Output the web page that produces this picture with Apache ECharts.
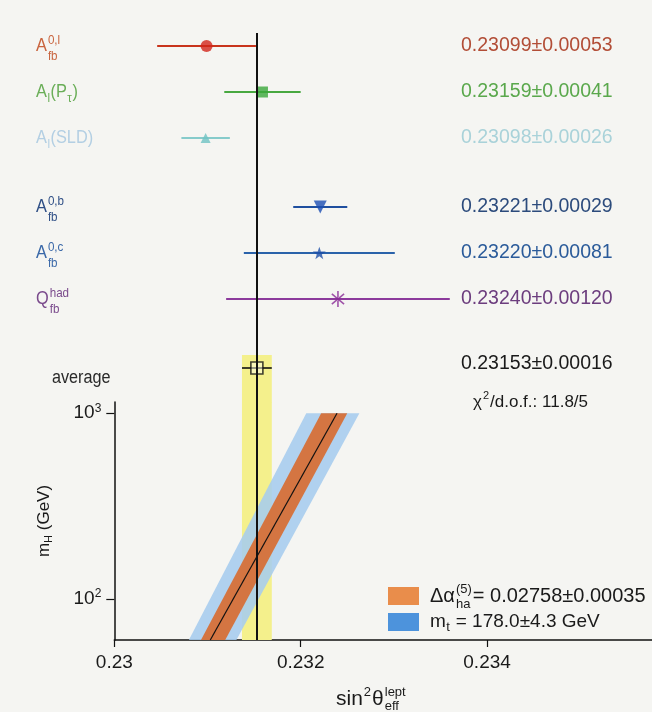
<!DOCTYPE html>
<html>
<head>
<meta charset="utf-8">
<script src="https://cdn.jsdelivr.net/npm/echarts@6/dist/echarts.min.js"></script>
<style>
  html, body { margin: 0; padding: 0; background: #f5f5f2; }
  #chart { width: 652px; height: 712px; }
</style>
</head>
<body>
<div id="chart"></div>
<script>
// ---- sin^2 theta_eff^lept measurements ----
const measurementValue = [0.23099, 0.23159, 0.23098, 0.23221, 0.23220, 0.23240];
const measurementError = [0.00053, 0.00041, 0.00026, 0.00029, 0.00081, 0.00120];
const averageValue = 0.23153;
const averageError = 0.00016;
const chi2PerDof = '11.8/5';

// label pieces: [text, role]; roles: base, sup, sub (stacked under sup), low (inline subscript)
const measurementLabels = [
  [['A', 'base'], ['0,l', 'sup'], ['fb', 'sub']],
  [['A', 'base'], ['l', 'low'], ['(P', 'base'], ['τ', 'low'], [')', 'base']],
  [['A', 'base'], ['l', 'low'], ['(SLD)', 'base']],
  [['A', 'base'], ['0,b', 'sup'], ['fb', 'sub']],
  [['A', 'base'], ['0,c', 'sup'], ['fb', 'sub']],
  [['Q', 'base'], ['had', 'sup'], ['fb', 'sub']]
];
const averageLabel = 'average';

// ---- Standard Model prediction versus Higgs mass ----
const higgsMass     = [60, 1000];
const smCentral     = [0.23103, 0.23239];
const alphaBandLow  = [0.23093, 0.23222];
const alphaBandHigh = [0.23119, 0.23250];
const topBandLow    = [0.23080, 0.23206];
const topBandHigh   = [0.23131, 0.23263];

const legendAlpha = [['Δα', 'base'], ['(5)', 'sup'], ['ha', 'sub'], ['= 0.02758±0.00035', 'base']];
const legendTop   = [['m', 'base'], ['t', 'low'], [' = 178.0±4.3 GeV', 'base']];

// ---- axes ----
const xTickValues = [0.230, 0.232, 0.234];
const xTickLabels = ['0.23', '0.232', '0.234'];
const yTickValues = [100, 1000];
const yTickExponents = ['2', '3'];
const xTitle = [['sin', 'base'], ['2', 'sup'], ['θ', 'base'], ['lept', 'sup'], ['eff', 'sub']];
const chi2Label = [['χ', 'base'], ['2', 'sup'], ['/d.o.f.: ' + chi2PerDof, 'base']];

// ---- layout & style ----
const X_MIN = 0.23, X_MAX = 0.23577;
const Y_MIN = 60, Y_MAX = 1150;
const PLOT_LEFT = 114.3;
const rowSlot = [0, 1, 2, 3.5, 4.5, 5.5, 7];
const FONT_SANS = "'Liberation Sans', Arial, sans-serif";

const labelColor  = ['#c9643e', '#6aae58', '#b3cfe3', '#2f4f86', '#3a68a8', '#7a4a8c', '#2a2a2a'];
const valueColor  = ['#b24d36', '#5aa84c', '#a9d2d9', '#2c4b7c', '#2b5b9a', '#6c3d7e', '#1a1a1a'];
const barColor    = ['#c8341c', '#48a840', '#86cbcb', '#1f4f9f', '#2a62aa', '#8c3a9c', '#111111'];
const markerColor = ['#d2261a', '#3aa83a', '#6fc3c3', '#1b4db3', '#1d4fa8', '#8a2a96', 'rgba(255,255,235,0.6)'];
const STAR = 'path://M50,0 L61.8,35.1 L98.1,35.1 L68.8,56.8 L79.4,91.9 L50,70.6 L20.6,91.9 L31.2,56.8 L1.9,35.1 L38.2,35.1 Z';
const ASTERISK = 'path://M45,0H55V100H45Z M14.9,14.1L91.5,78.3L85.1,85.9L8.5,21.7Z M85.1,14.1L8.5,78.3L14.9,85.9L91.5,21.7Z';
const markerSymbol = ['circle', 'rect', 'triangle', 'triangle', STAR, ASTERISK, 'rect'];
const markerSize   = [12, 11, 10, 13, 13, 16, 12];
const markerRotate = [0, 0, 0, 180, 0, 0, 0];

const rowsValue = measurementValue.concat([averageValue]);
const rowsError = measurementError.concat([averageError]);
const AVG_ROW = rowsValue.length - 1;

const measureCtx = document.createElement('canvas').getContext('2d');
function textWidth(str, size, family) {
  measureCtx.font = size + 'px ' + family;
  return measureCtx.measureText(str).width;
}
// a text element anchored at its left/middle point, optionally condensed horizontally
function txt(str, x, y, size, color, family, squeeze) {
  return {
    type: 'text', x: x, y: y, scaleX: squeeze || 1, silent: true,
    style: { text: str, fill: color, fontSize: size, fontFamily: family, align: 'left', verticalAlign: 'middle' }
  };
}
// lay out a label made of base text with super/subscripts
function buildPieces(tokens, x0, y, color, family, big, small, off, squeeze) {
  const k = squeeze || 1;
  const out = [];
  let x = x0, pendingSup = 0;
  tokens.forEach(function (t) {
    const s = t[0], role = t[1];
    if (role === 'base') {
      x += pendingSup; pendingSup = 0;
      out.push(txt(s, x, y, big, color, family, k));
      x += textWidth(s, big, family) * k;
    } else if (role === 'sup') {
      out.push(txt(s, x + 1, y + off.sup, small, color, family, k));
      pendingSup = textWidth(s, small, family) * k + 2;
    } else if (role === 'sub') {
      out.push(txt(s, x + 1, y + off.sub, small, color, family, k));
      x += Math.max(pendingSup, textWidth(s, small, family) * k + 2); pendingSup = 0;
    } else if (role === 'low') {
      out.push(txt(s, x + 0.5, y + off.low, small, color, family, k));
      x += textWidth(s, small, family) * k + 1;
    }
  });
  return out;
}

const chart = echarts.init(document.getElementById('chart'), null, { renderer: 'canvas', width: 652, height: 712 });

const bandDefs = [
  { low: topBandLow, high: topBandHigh, color: 'rgba(166,204,238,0.88)' },
  { low: alphaBandLow, high: alphaBandHigh, color: 'rgba(214,112,56,0.95)' }
];

const option = {
  animation: false,
  backgroundColor: '#f5f5f2',
  grid: [
    { left: PLOT_LEFT, right: 0, top: 0, height: 402.5, containLabel: false, outerBoundsMode: 'none' },
    { left: PLOT_LEFT, right: 0, top: 402, height: 238, containLabel: false, outerBoundsMode: 'none' }
  ],
  xAxis: [
    { gridIndex: 0, type: 'value', min: X_MIN, max: X_MAX, show: false },
    {
      gridIndex: 1, type: 'value', min: X_MIN, max: X_MAX,
      axisLine: { show: true, onZero: false, lineStyle: { color: '#111', width: 1.5 } },
      axisTick: { show: true, customValues: xTickValues, length: 7, lineStyle: { color: '#111', width: 1.2 } },
      axisLabel: {
        show: true, customValues: xTickValues, margin: 13, fontSize: 19, fontFamily: FONT_SANS, color: '#1a1a1a',
        formatter: function (v) {
          const k = xTickValues.findIndex(function (t) { return Math.abs(t - v) < 1e-9; });
          return k >= 0 ? xTickLabels[k] : '';
        }
      },
      splitLine: { show: false }
    }
  ],
  yAxis: [
    { gridIndex: 0, type: 'value', min: -1, max: 7.75, inverse: true, show: false },
    {
      gridIndex: 1, type: 'log', logBase: 10, min: Y_MIN, max: Y_MAX,
      axisLine: { show: true, onZero: false, lineStyle: { color: '#111', width: 1.5 } },
      axisTick: { show: true, customValues: yTickValues, length: 8, lineStyle: { color: '#111', width: 1.2 } },
      axisLabel: {
        show: true, customValues: yTickValues, margin: 13,
        formatter: function (v) {
          const k = yTickValues.findIndex(function (t) { return Math.abs(t - v) < 1e-6; });
          return k >= 0 ? '{b|10}{s|' + yTickExponents[k] + '}' : '';
        },
        rich: {
          b: { fontSize: 19, fontFamily: FONT_SANS, color: '#1a1a1a', lineHeight: 22 },
          s: { fontSize: 12, fontFamily: FONT_SANS, color: '#1a1a1a', lineHeight: 14, verticalAlign: 'top' }
        }
      },
      splitLine: { show: false },
      name: '{m|m}{h|H}{m| (GeV)}',
      nameLocation: 'middle', nameRotate: 90, nameGap: 60, nameMoveOverlap: false,
      nameTextStyle: {
        rich: {
          m: { fontSize: 17, fontFamily: FONT_SANS, color: '#1a1a1a', lineHeight: 20 },
          h: { fontSize: 11, fontFamily: FONT_SANS, color: '#1a1a1a', lineHeight: 12, verticalAlign: 'bottom' }
        }
      }
    }
  ],
  series: [
    // horizontal error bars
    {
      type: 'custom', xAxisIndex: 0, yAxisIndex: 0, silent: true, z: 2, clip: false,
      data: rowSlot.map(function (s, i) { return [rowsValue[i] - rowsError[i], rowsValue[i] + rowsError[i], s]; }),
      encode: { x: [0, 1], y: 2 },
      renderItem: function (params, api) {
        const i = params.dataIndex;
        const a = api.coord([api.value(0), api.value(2)]);
        const b = api.coord([api.value(1), api.value(2)]);
        return {
          type: 'line',
          shape: { x1: a[0], y1: a[1], x2: b[0], y2: b[1] },
          style: { stroke: barColor[i], lineWidth: i === AVG_ROW ? 1.6 : 2 }
        };
      }
    },
    // central values
    {
      type: 'scatter', xAxisIndex: 0, yAxisIndex: 0, silent: true, z: 3,
      data: rowSlot.map(function (s, i) {
        return {
          value: [rowsValue[i], s],
          symbol: markerSymbol[i], symbolSize: markerSize[i], symbolRotate: markerRotate[i],
          symbolKeepAspect: true,
          itemStyle: i === AVG_ROW
            ? { color: markerColor[i], borderColor: '#111', borderWidth: 1.6 }
            : { color: markerColor[i] }
        };
      }),
      markArea: {
        silent: true,
        itemStyle: { color: '#f4f08c' },
        data: [[{ coord: [averageValue - averageError, 6.72] }, { coord: [averageValue + averageError, 7.75] }]]
      },
      markLine: {
        silent: true, symbol: ['none', 'none'], label: { show: false },
        lineStyle: { color: '#111', width: 2, type: 'solid' },
        data: [[{ coord: [averageValue, -0.28] }, { coord: [averageValue, 7.75] }]]
      }
    },
    // left labels and right value texts
    {
      type: 'custom', xAxisIndex: 0, yAxisIndex: 0, silent: true, z: 4, clip: false,
      data: rowSlot.map(function (s, i) { return [rowsValue[i], s]; }),
      encode: { x: 0, y: 1 },
      renderItem: function (params, api) {
        const i = params.dataIndex;
        const y = api.coord([X_MIN, api.value(1)])[1];
        let children;
        if (i === AVG_ROW) {
          children = [txt(averageLabel, 52, y + 10, 18, labelColor[i], FONT_SANS, 0.9)];
        } else {
          children = buildPieces(measurementLabels[i], 36, y, labelColor[i], FONT_SANS, 19, 13.5,
            { sup: -6, sub: 10, low: 6 }, 0.86);
        }
        const valueText = rowsValue[i].toFixed(5) + '±' + rowsError[i].toFixed(5);
        children.push(txt(valueText, 461, i === AVG_ROW ? y - 4 : y, 19.5, valueColor[i], FONT_SANS));
        return { type: 'group', children: children };
      }
    },
    // SM bands (m_t and Δα_had uncertainties)
    {
      type: 'custom', xAxisIndex: 1, yAxisIndex: 1, silent: true, z: 2, clip: true,
      data: bandDefs.map(function (b, i) { return [i, b.low[0], higgsMass[0]]; }),
      encode: { x: 1, y: 2 },
      renderItem: function (params, api) {
        const b = bandDefs[params.dataIndex];
        const pts = [];
        higgsMass.forEach(function (m, k) { pts.push(api.coord([b.low[k], m])); });
        for (let k = higgsMass.length - 1; k >= 0; k--) { pts.push(api.coord([b.high[k], higgsMass[k]])); }
        return { type: 'polygon', shape: { points: pts }, style: { fill: b.color } };
      }
    },
    // SM central prediction, average band and line
    {
      type: 'line', xAxisIndex: 1, yAxisIndex: 1, silent: true, z: 4,
      data: higgsMass.map(function (m, i) { return [smCentral[i], m]; }),
      symbol: 'none',
      lineStyle: { color: '#111', width: 1.2 },
      markArea: {
        silent: true,
        itemStyle: { color: '#f4f08c' },
        data: [[{ xAxis: averageValue - averageError }, { xAxis: averageValue + averageError }]]
      },
      markLine: {
        silent: true, symbol: ['none', 'none'], label: { show: false },
        lineStyle: { color: '#111', width: 2, type: 'solid' },
        data: [[{ coord: [averageValue, Y_MIN] }, { coord: [averageValue, Y_MAX] }]]
      }
    }
  ],
  graphic: [
    {
      type: 'group', silent: true,
      children: buildPieces(chi2Label, 473, 402, '#1a1a1a', FONT_SANS, 17, 11, { sup: -6, sub: 8, low: 5 })
    },
    { type: 'rect', x: 388, y: 587, shape: { width: 31, height: 18 }, style: { fill: '#e98d4b' }, silent: true },
    { type: 'rect', x: 388, y: 613, shape: { width: 31, height: 18 }, style: { fill: '#4d93dc' }, silent: true },
    {
      type: 'group', silent: true,
      children: buildPieces(legendAlpha, 430, 596, '#1a1a1a', FONT_SANS, 20, 13, { sup: -7, sub: 8, low: 5 })
        .concat(buildPieces(legendTop, 430, 622, '#1a1a1a', FONT_SANS, 19, 13, { sup: -7, sub: 8, low: 5 }))
    },
    {
      type: 'group', silent: true,
      children: buildPieces(xTitle, 336, 699, '#1a1a1a', FONT_SANS, 21, 13, { sup: -7, sub: 7, low: 5 })
    }
  ]
};

chart.setOption(option);
</script>
</body>
</html>
